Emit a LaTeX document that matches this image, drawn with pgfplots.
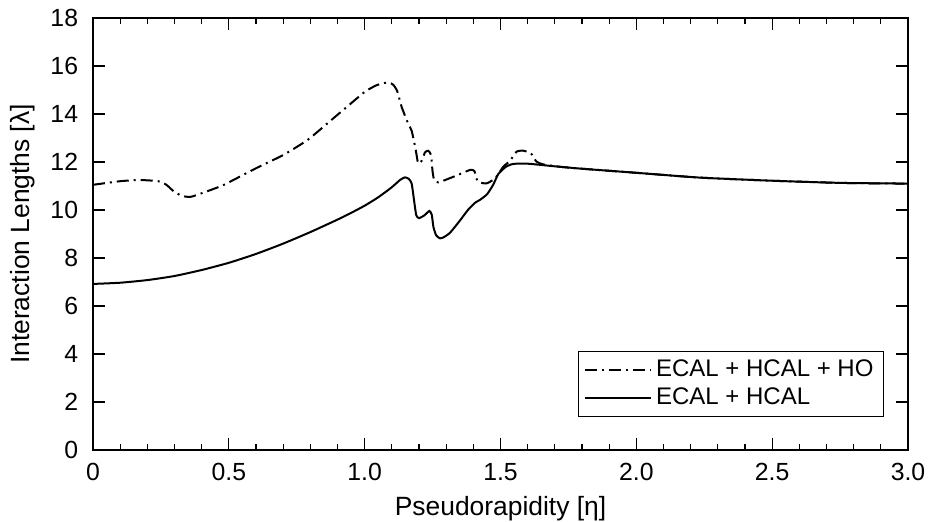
\documentclass[border=0pt]{standalone}
\usepackage{pgfplots}
\pgfplotsset{compat=1.18}
\usepackage{fontspec}
\setmainfont{Liberation Sans}
\begin{document}
\fontsize{12.8}{15}\selectfont
\begin{tikzpicture}
\begin{axis}[
  scale only axis,
  width=407.5pt, height=216pt,
  xmin=0, xmax=3, ymin=0, ymax=18,
  xtick={0,0.5,1.0,1.5,2.0,2.5,3.0},
  xticklabels={0,0.5,1.0,1.5,2.0,2.5,3.0},
  minor x tick num=4,
  ytick={0,2,...,18},
  tick align=inside,
  major tick length=6pt, minor tick length=3pt,
  tick style={line width=0.6pt, black},
  axis line style={line width=1pt},
  /pgf/number format/assume math mode=true,
  ticklabel style={font=\fontsize{12.4}{15}\selectfont},
  yticklabel style={xshift=-3pt},
  xticklabel style={yshift=-2pt},
  xlabel={Pseudorapidity [η]},
  ylabel={Interaction Lengths [λ]},
  label style={font=\fontsize{13.2}{15}\selectfont},
  xlabel style={yshift=1pt},
  ylabel style={yshift=-1pt},
  legend cell align=left,
  legend style={at={(1,0)}, anchor=south east, xshift=-12pt, yshift=16.5pt,
    draw=black, line width=0.5pt, font=\fontsize{12}{14}\selectfont,
    inner xsep=3pt, inner ysep=2pt, row sep=0pt},
  legend image code/.code={\draw[#1, line width=1pt] (0cm,0cm) -- (27.5pt,0cm);
    \path (0pt,0pt) -- (33pt,0pt);},
]
\addplot[black, line width=1pt, smooth, tension=0.35,
  dash pattern=on 6pt off 2.5pt on 1pt off 2.5pt] coordinates {
(0,11.05) (0.1,11.2) (0.17,11.25) (0.24,11.2) (0.27,11.05) (0.3,10.75) (0.33,10.58)
(0.36,10.55) (0.4,10.7) (0.48,11.04) (0.6,11.74) (0.7,12.29) (0.79,12.92) (0.87,13.68)
(0.94,14.35) (1.0,14.92) (1.04,15.18) (1.07,15.29) (1.09,15.3) (1.105,15.22) (1.12,14.95) (1.136,14.3)
(1.16,13.6) (1.173,13.3) (1.188,12.5) (1.197,11.94) (1.21,12.05) (1.222,12.4) (1.234,12.47)
(1.244,12.3) (1.25,11.6) (1.256,11.25) (1.271,11.15) (1.33,11.4) (1.388,11.67) (1.404,11.62)
(1.412,11.3) (1.42,11.16) (1.449,11.11) (1.48,11.32) (1.51,11.8) (1.535,12.05) (1.559,12.43)
(1.584,12.47) (1.612,12.36) (1.632,12.02) (1.657,11.9) (1.72,11.8) (1.8,11.72) (2.0,11.55)
(2.234,11.35) (2.5,11.22) (2.75,11.13) (3.0,11.1)
};
\addlegendentry{ECAL + HCAL + HO}
\addplot[black, line width=1pt, smooth, tension=0.35] coordinates {
(0,6.92) (0.1,6.97) (0.2,7.08) (0.3,7.25) (0.4,7.5) (0.5,7.8) (0.6,8.17) (0.7,8.6)
(0.8,9.08) (0.9,9.6) (0.95,9.88) (1.0,10.18) (1.05,10.53) (1.1,10.95) (1.13,11.25) (1.148,11.36)
(1.162,11.3) (1.173,11.1) (1.183,10.3) (1.19,9.78) (1.2,9.66) (1.22,9.78) (1.238,9.96)
(1.247,9.8) (1.253,9.3) (1.263,8.95) (1.277,8.82) (1.29,8.86) (1.314,9.05) (1.35,9.55)
(1.38,10.0) (1.406,10.3) (1.424,10.42) (1.45,10.65) (1.473,11.05) (1.492,11.5) (1.52,11.8)
(1.547,11.92) (1.6,11.93) (1.7,11.82) (1.8,11.72) (2.0,11.55) (2.234,11.35) (2.5,11.22)
(2.75,11.13) (3.0,11.1)
};
\addlegendentry{ECAL + HCAL}
\end{axis}
\pgfresetboundingbox
\path (current axis.south west) ++(-46.5pt,-35.5pt) rectangle ++(464.5pt,260.5pt);
\end{tikzpicture}
\end{document}
